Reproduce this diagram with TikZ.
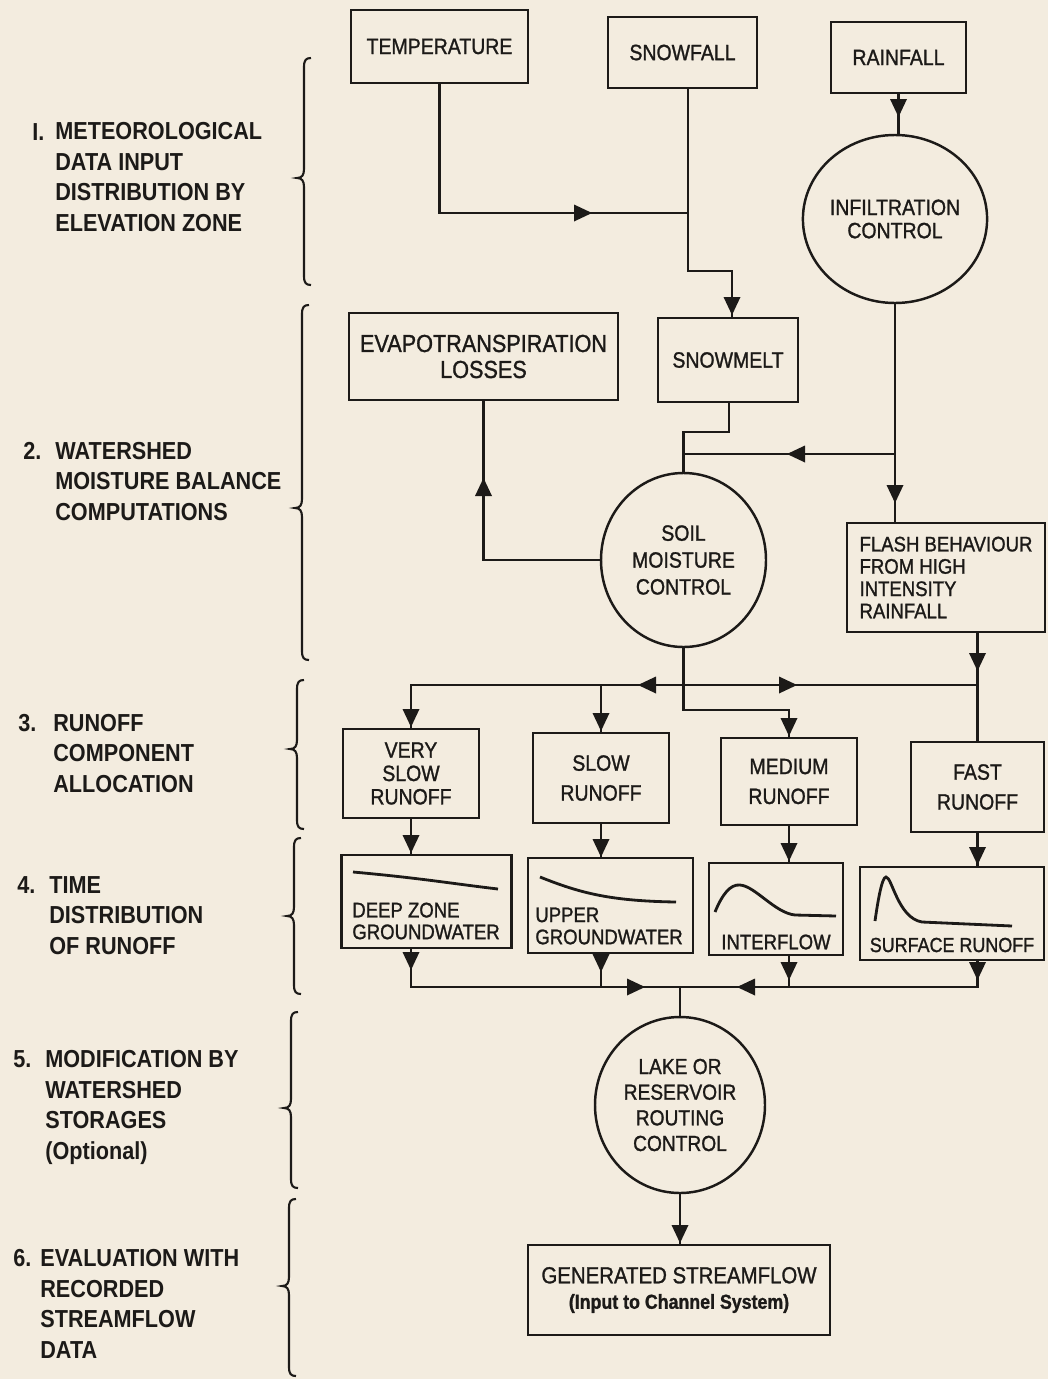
\documentclass[tikz,border=0pt]{standalone}
\usepackage{fontspec}
\setmainfont{Liberation Sans}[FakeStretch=0.88]
\newfontfamily\boxfam{Liberation Sans}[FakeStretch=0.88,FakeBold=1.2]
\usetikzlibrary{shapes.geometric}
\definecolor{paper}{RGB}{243,236,223}
\definecolor{ink}{RGB}{28,26,24}
\newlength\pxu \setlength\pxu{0.02cm}
\newcommand{\tipat}[3]{\fill[ink,shift={(#1,#2)},rotate=#3] (0,0) -- (-18,8.5) -- (-18,-8.5) -- cycle;}
\newcommand{\grpbrace}[4]{\draw[ink,line width=1.2pt] (#1+7,#2) .. controls (#1+2,#2) and (#1,#2+2) .. (#1,#2+9) -- (#1,#4-9) .. controls (#1,#4-3) and (#1-2,#4) .. (#1-7,#4) .. controls (#1-2,#4) and (#1,#4+3) .. (#1,#4+9) -- (#1,#3-9) .. controls (#1,#3-2) and (#1+2,#3) .. (#1+7,#3);}
\newcommand{\bsz}[2]{\boxfam\fontsize{#1}{#2}\selectfont}
\newcommand{\sidefont}{\fontsize{14}{17.3}\selectfont\bfseries}
\begin{document}
\begin{tikzpicture}[x=0.02cm,y=-0.02cm,
  box/.style={draw=ink, line width=1.4pt, rectangle, inner sep=0pt, align=center, text=ink, font={\bsz{12.6}{15}}},
  oval/.style={draw=ink, line width=1.4pt, ellipse, inner sep=0pt, align=center, text=ink, font={\bsz{12.6}{15}}},
  wire/.style={draw=ink, line width=1.4pt},
  curve/.style={draw=ink, line width=1.6pt},
  side/.style={inner sep=0pt, anchor=base west, text=ink, align=left, font=\sidefont},
  inner/.style={inner sep=0pt, text=ink, align=left, font={\bsz{12}{12.4}}},
  sz/.style 2 args={minimum width=#1*\pxu, minimum height=#2*\pxu}]
\fill[paper] (0,0) rectangle (1048,1379);
\useasboundingbox (0,0) rectangle (1048,1379);

% ---------- left column labels (numbers on first line, text block placed by its last line) ----------
\node[side] (n1) at (32,140) {I.};
\node[side] (l1) at (55,231) {METEOROLOGICAL\\DATA INPUT\\DISTRIBUTION BY\\ELEVATION ZONE};
\node[side] (n2) at (23,459) {2.};
\node[side] (l2) at (55,520) {WATERSHED\\MOISTURE BALANCE\\COMPUTATIONS};
\node[side] (n3) at (18,731) {3.};
\node[side] (l3) at (53,792) {RUNOFF\\COMPONENT\\ALLOCATION};
\node[side] (n4) at (17,893) {4.};
\node[side] (l4) at (49,954) {TIME\\DISTRIBUTION\\OF RUNOFF};
\node[side] (n5) at (13,1067.5) {5.};
\node[side] (l5) at (45,1159) {MODIFICATION BY\\WATERSHED\\STORAGES\\(Optional)};
\node[side] (n6) at (13,1266.5) {6.};
\node[side] (l6) at (40,1358) {EVALUATION WITH\\RECORDED\\STREAMFLOW\\DATA};

% ---------- braces ----------
\grpbrace{304}{58}{285}{178}
\grpbrace{302}{305}{660}{508}
\grpbrace{297}{680}{829}{749}
\grpbrace{294}{838}{994}{916}
\grpbrace{291}{1012}{1188}{1108}
\grpbrace{289}{1199}{1376}{1286}

% ---------- nodes ----------
\node[box, sz={177}{73}] (temp) at (439.5,46.5) {TEMPERATURE};
\node[box, sz={149}{71}] (snowf) at (682.5,52.5) {SNOWFALL};
\node[box, sz={135}{71}] (rain) at (898.5,57.5) {RAINFALL};
\node[oval, sz={166}{168}, font={\bsz{12.6}{13.2}}] (infil) at (895,219) {INFILTRATION\\CONTROL};
\node[box, sz={269}{87}, font={\bsz{14}{14.8}}] (evap) at (483.5,356.5) {EVAPOTRANSPIRATION\\LOSSES};
\node[box, sz={140}{84}] (melt) at (728,360) {SNOWMELT};
\node[oval, sz={165}{174}, font={\bsz{12.6}{15.3}}] (soil) at (683.5,560) {SOIL\\MOISTURE\\CONTROL};
\node[box, sz={198}{109}, align=left, font={\bsz{12}{12.7}}] (flash) at (946,577.5) {FLASH BEHAVIOUR\\FROM HIGH\\INTENSITY\\RAINFALL};

\node[box, sz={136}{89}, font={\bsz{12.6}{13.3}}] (vslow) at (411,773.5) {VERY\\SLOW\\RUNOFF};
\node[box, sz={136}{90}, font={\bsz{12.6}{17}}] (slow) at (601,778) {SLOW\\RUNOFF};
\node[box, sz={136}{87}, font={\bsz{12.6}{17}}] (med) at (789,781.5) {MEDIUM\\RUNOFF};
\node[box, sz={133}{90}, font={\bsz{12.6}{17}}] (fast) at (977.5,787) {FAST\\RUNOFF};

\node[box, sz={170}{93}] (deep) at (426.5,901.5) {};
\node[box, sz={165}{95}] (upper) at (610.5,905.5) {};
\node[box, sz={134}{92}] (inter) at (776,909) {};
\node[box, sz={184}{93}] (surf) at (952,913.5) {};
\node[inner, anchor=west] (deepl) at (352,921) {DEEP ZONE\\GROUNDWATER};
\node[inner, anchor=west, font={\bsz{12}{12.6}}] (upperl) at (535,926) {UPPER\\GROUNDWATER};
\node[inner] (interl) at (776,942) {INTERFLOW};
\node[inner, font={\bsz{11.6}{12}}] (surfl) at (952,945) {SURFACE RUNOFF};

% hydrograph sketches
\draw[curve] (353,872) .. controls (420,878) and (455,884) .. (498,889);
\draw[curve] (540,877) .. controls (580,893) and (610,901) .. (676,902);
\draw[curve] (715,912) .. controls (722,895) and (730,884) .. (740,885) .. controls (755,886) and (775,913) .. (795,915) -- (836,916);
\draw[curve] (875,921) .. controls (878,900) and (882,877) .. (886,877) .. controls (892,877) and (898,918) .. (922,922) -- (1012,926);

\node[oval, sz={170}{176}, font={\bsz{12.4}{14.6}}] (lake) at (680,1105) {LAKE OR\\RESERVOIR\\ROUTING\\CONTROL};
\node[box, sz={302}{90}, font={\bsz{13.2}{14.5}}] (gen) at (679,1290) {GENERATED STREAMFLOW\\{\bfseries\fontsize{11.5}{12}\selectfont (Input to Channel System)}};

% ---------- junction coordinates ----------
\coordinate (j1) at (688,213);
\coordinate (c1) at (732,271);
\coordinate (j2) at (895,454);
\coordinate (j3) at (683.5,454);
\coordinate (c2) at (729,432);
\coordinate (c3) at (683.5,710);
\coordinate (h1) at (977.5,685);
\coordinate (h2) at (601,685);
\coordinate (bot) at (680,987);

% ---------- connectors ----------
\draw[wire] (temp.south) |- (j1);
\draw[wire] (snowf.south -| j1) |- (c1) -- (c1 |- melt.north);
\draw[wire] (rain.south) -- (rain.south |- infil.north);
\draw[wire] (infil.south) -- (infil.south |- flash.north);
\draw[wire] (j2) -- (j3);
\draw[wire] (melt.south -| c2) -- (c2) -| (soil.north);
\draw[wire] (soil.west) -| (evap.south);
\draw[wire] (soil.south) -- (c3) -| (med.north);
\draw[wire] (fast.north |- flash.south) -- (fast.north);
\draw[wire] (h1) -| (vslow.north);
\draw[wire] (h2) -- (slow.north);
\draw[wire] (vslow.south) -- (vslow.south |- deep.north);
\draw[wire] (slow.south) -- (slow.south |- upper.north);
\draw[wire] (med.south) -- (med.south |- inter.north);
\draw[wire] (fast.south) -- (fast.south |- surf.north);
\draw[wire] (vslow.south |- deep.south) |- (bot);
\draw[wire] (fast.south |- surf.south) |- (bot);
\draw[wire] (slow.south |- upper.south) -- (slow.south |- bot);
\draw[wire] (med.south |- inter.south) -- (med.south |- bot);
\draw[wire] (bot) -- (bot |- lake.north);
\draw[wire] (lake.south) -- (lake.south |- gen.north);

% ---------- arrowheads ----------
\tipat{592}{213}{0}
\tipat{732}{315}{-90}
\tipat{898.5}{117}{-90}
\tipat{895}{503}{-90}
\tipat{787}{454}{180}
\tipat{483.5}{478}{90}
\tipat{789}{736}{-90}
\tipat{977.5}{671}{-90}
\tipat{638}{685}{180}
\tipat{797}{685}{0}
\tipat{411}{727}{-90}
\tipat{601}{731}{-90}
\tipat{411}{853}{-90}
\tipat{601}{857}{-90}
\tipat{789}{861}{-90}
\tipat{977.5}{865}{-90}
\tipat{411}{970}{-90}
\tipat{601}{972}{-90}
\tipat{789}{980}{-90}
\tipat{977.5}{980}{-90}
\tipat{645}{987}{0}
\tipat{737}{987}{180}
\tipat{680}{1243}{-90}
\end{tikzpicture}
\end{document}
